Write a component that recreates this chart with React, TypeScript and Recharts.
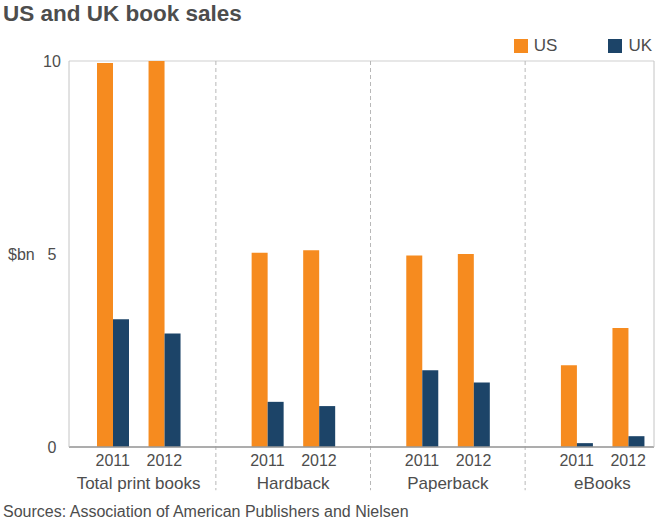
import React from "react";
import {
  Bar,
  BarChart,
  CartesianGrid,
  ReferenceLine,
  XAxis,
  YAxis,
} from "recharts";

const groups = ["Total print books", "Hardback", "Paperback", "eBooks"];
const years = ["2011", "2012"];
// one value per group/year, in group order
const usSales = [9.95, 10.0, 5.03, 5.1, 4.96, 5.0, 2.12, 3.08];
const ukSales = [3.31, 2.94, 1.17, 1.06, 1.99, 1.67, 0.1, 0.28];
const yTicks = [0, 5, 10];

const US_COLOR = "#f68b1f";
const UK_COLOR = "#1c4468";
const TEXT = "#4d4d4d";
const FONT = "'Liberation Sans', Arial, Helvetica, sans-serif";

type Row = { key: string; year?: string; group?: string; us?: number; uk?: number };

// years of a group sit side by side; an empty slot separates the groups
const data: Row[] = [];
groups.forEach((g, gi) => {
  if (gi > 0) data.push({ key: `gap${gi}` });
  years.forEach((y, yi) => {
    data.push({
      key: `${g} ${y}`,
      year: y,
      group: yi === 0 ? g : undefined,
      us: usSales[gi * years.length + yi],
      uk: ukSales[gi * years.length + yi],
    });
  });
});
const gapKeys = data.filter((d) => d.year === undefined).map((d) => d.key);

function XTick(props: any) {
  const { x, y, payload } = props;
  const row = data.find((d) => d.key === payload.value);
  if (!row || !row.year) return null;
  const half = payload.offset ?? 25.75;
  return (
    <g>
      <text x={x} y={y + 11} textAnchor="middle" fill={TEXT} fontSize={16} fontFamily={FONT}>
        {row.year}
      </text>
      {row.group && (
        <text x={x + half} y={y + 34} textAnchor="middle" fill={TEXT} fontSize={17} fontFamily={FONT}>
          {row.group}
        </text>
      )}
    </g>
  );
}

function YTick(props: any) {
  const { x, y, payload } = props;
  return (
    <g>
      {payload.value === 5 && (
        <text x={x - 53} y={y + 6} textAnchor="start" fill={TEXT} fontSize={16} fontFamily={FONT}>
          $bn
        </text>
      )}
      <text x={x - 9} y={y + 6} textAnchor="middle" fill={TEXT} fontSize={16} fontFamily={FONT}>
        {payload.value}
      </text>
    </g>
  );
}

function LegendItem({ color, label }: { color: string; label: string }) {
  return (
    <span style={{ display: "inline-flex", alignItems: "center", marginLeft: 51 }}>
      <span style={{ width: 14, height: 14, background: color, display: "inline-block", marginRight: 6 }} />
      {label}
    </span>
  );
}

export default function App() {
  return (
    <div
      style={{
        position: "absolute",
        left: 0,
        top: 0,
        width: 660,
        height: 527,
        background: "#fff",
        fontFamily: FONT,
        color: TEXT,
      }}
    >
      <div style={{ position: "absolute", left: 3, top: 1, fontSize: 22.5, fontWeight: "bold" }}>
        US and UK book sales
      </div>
      <div style={{ position: "absolute", right: 8, top: 36, fontSize: 17, display: "flex" }}>
        <LegendItem color={US_COLOR} label="US" />
        <LegendItem color={UK_COLOR} label="UK" />
      </div>
      <BarChart
        width={660}
        height={527}
        data={data}
        margin={{ top: 61, right: 0, bottom: 0, left: 0 }}
        barSize={16}
        barGap={0}
      >
        <CartesianGrid vertical={false} stroke="#cfcfcf" />
        <XAxis
          dataKey="key"
          type="category"
          interval={0}
          height={80}
          padding={{ left: 18, right: 0 }}
          tickLine={false}
          axisLine={{ stroke: "#9a9a9a", strokeWidth: 1.5 }}
          tick={<XTick />}
        />
        <YAxis
          yAxisId="left"
          domain={[0, 10]}
          ticks={yTicks}
          width={69}
          tickLine={false}
          axisLine={{ stroke: "#c4c4c4" }}
          tick={<YTick />}
        />
        <YAxis
          yAxisId="right"
          orientation="right"
          domain={[0, 10]}
          ticks={yTicks}
          width={6}
          tick={false}
          tickLine={false}
          axisLine={{ stroke: "#c4c4c4" }}
        />
        {gapKeys.map((k) => (
          <ReferenceLine
            key={k}
            yAxisId="left"
            segment={[
              { x: k, y: 10 },
              { x: k, y: -1.12 },
            ]}
            ifOverflow="visible"
            stroke="#b8b8b8"
            strokeDasharray="4 3"
          />
        ))}
        <Bar yAxisId="left" dataKey="us" fill={US_COLOR} isAnimationActive={false} />
        <Bar yAxisId="left" dataKey="uk" fill={UK_COLOR} isAnimationActive={false} />
      </BarChart>
      <div style={{ position: "absolute", left: 3, top: 503, fontSize: 16 }}>
        Sources: Association of American Publishers and Nielsen
      </div>
    </div>
  );
}
